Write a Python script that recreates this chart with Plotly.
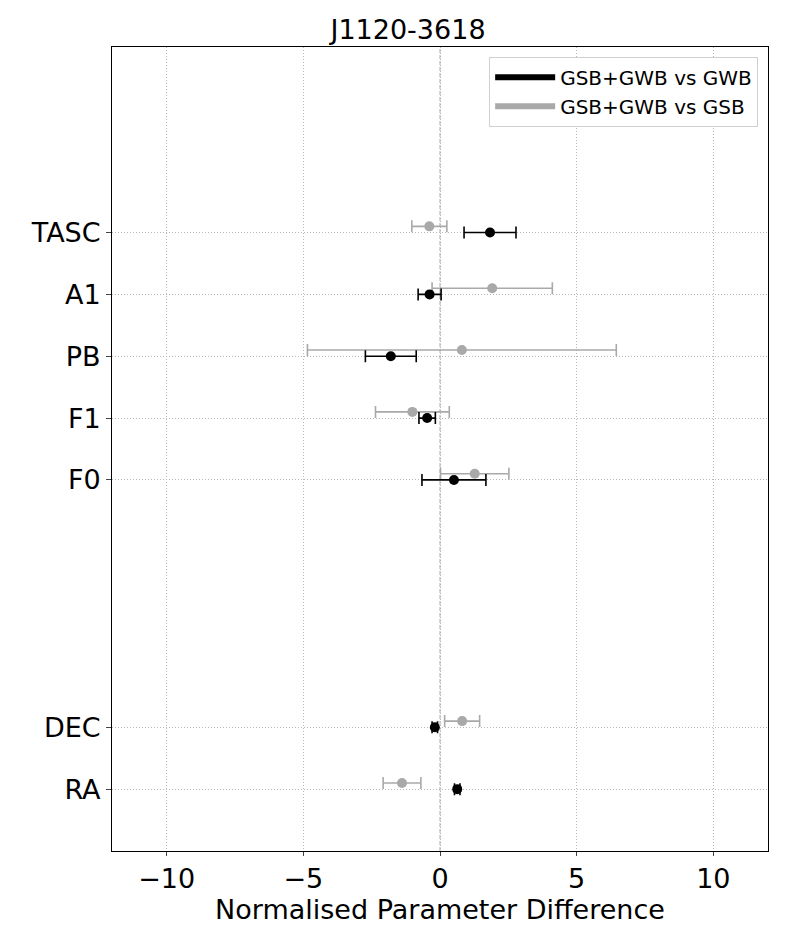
import plotly.graph_objects as go

params = ["RA", "DEC", "F0", "F1", "PB", "A1", "TASC"]
ypos = [0, 1, 5, 6, 7, 8, 9]

gwb_val = [0.63, -0.19, 0.51, -0.47, -1.80, -0.38, 1.83]
gwb_err = [0.10, 0.10, 1.17, 0.30, 0.93, 0.42, 0.95]

gsb_val = [-1.39, 0.81, 1.27, -1.01, 0.80, 1.91, -0.39]
gsb_err = [0.69, 0.64, 1.25, 1.35, 5.65, 2.20, 0.64]

offset = 0.1
font = "DejaVu Sans"

fig = go.Figure()

# zero line
fig.add_shape(type="line", x0=0, x1=0, y0=-1, y1=12, xref="x", yref="y",
              line=dict(color="#c8c8c8", width=1.5, dash="4px,2px"), layer="below")

fig.add_trace(go.Scatter(
    x=gsb_val, y=[p + offset for p in ypos], mode="markers",
    marker=dict(color="darkgray", size=10),
    error_x=dict(type="data", array=gsb_err, color="darkgray", thickness=1.6, width=6),
    showlegend=False))
fig.add_trace(go.Scatter(
    x=gwb_val, y=ypos, mode="markers",
    marker=dict(color="black", size=10),
    error_x=dict(type="data", array=gwb_err, color="black", thickness=1.6, width=6),
    showlegend=False))

# legend entries
fig.add_trace(go.Scatter(x=[None], y=[None], mode="lines",
                         line=dict(color="black", width=6), name="GSB+GWB vs GWB"))
fig.add_trace(go.Scatter(x=[None], y=[None], mode="lines",
                         line=dict(color="darkgray", width=6), name="GSB+GWB vs GSB"))

fig.update_layout(
    width=800, height=946,
    paper_bgcolor="white", plot_bgcolor="white",
    margin=dict(l=104, r=40, t=39, b=103),
    font=dict(family=font, color="black"),
    title=dict(text="J1120-3618", x=0.5, xanchor="center", y=0.977, yanchor="middle",
               font=dict(size=27, family=font)),
    legend=dict(x=0.985, y=0.988, xanchor="right", yanchor="top",
                bordercolor="#d0d0d0", borderwidth=1, bgcolor="white",
                font=dict(size=20, family=font), itemwidth=60),
    showlegend=True,
)
fig.update_xaxes(range=[-12, 12], tickvals=[-10, -5, 0, 5, 10],
                 ticktext=["\u221210", "\u22125", "0", "5", "10"],
                 showgrid=True, gridcolor="#b8b8b8", griddash="1px,2px", gridwidth=1,
                 zeroline=False, showline=True, linecolor="black", linewidth=1, mirror=True,
                 ticks="outside", ticklen=4, tickfont=dict(size=27),
                 title=dict(text="Normalised Parameter Difference", font=dict(size=27), standoff=3))
fig.update_yaxes(range=[-1, 12], tickvals=ypos, ticktext=params,
                 showgrid=True, gridcolor="#b8b8b8", griddash="1px,2px", gridwidth=1,
                 zeroline=False, showline=True, linecolor="black", linewidth=1, mirror=True,
                 ticks="outside", ticklen=5, tickfont=dict(size=27))

fig.write_html("out.html")
